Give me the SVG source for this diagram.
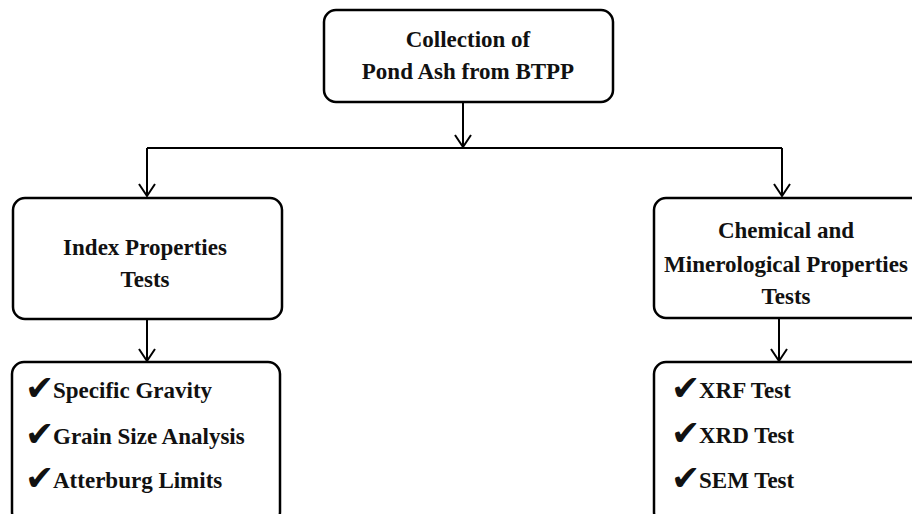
<svg xmlns="http://www.w3.org/2000/svg" width="912" height="514" viewBox="0 0 912 514">
<style>
.box{fill:#fff;stroke:#000;stroke-width:2.5}
.t{font-family:'Liberation Serif','Times New Roman','DejaVu Serif',serif;font-weight:700;font-size:23px;fill:#111}
.c{text-anchor:middle}
.ck{font-family:'DejaVu Sans',sans-serif;font-size:35px;fill:#111}
.ln{fill:none;stroke:#000;stroke-width:2}
.ah{fill:none;stroke:#000;stroke-width:2}
</style>
<rect width="912" height="514" fill="#fff"/>
<g id="connectors">
<path class="ln" d="M463 102V147"/>
<path class="ln" d="M147 148H782"/>
<path class="ln" d="M147 148V196"/>
<path class="ln" d="M782 148V196"/>
<path class="ln" d="M147 319V361"/>
<path class="ln" d="M779 318V361"/>
<path class="ah" d="M455 135L463 147L471 135"/>
<path class="ah" d="M139 184L147 196L155 184"/>
<path class="ah" d="M774 184L782 196L790 184"/>
<path class="ah" d="M139 349L147 361L155 349"/>
<path class="ah" d="M771 349L779 361L787 349"/>
</g>
<g id="n-collection">
<rect class="box" x="324" y="10" width="289" height="92" rx="12"/>
<text class="t c" x="468" y="47">Collection of</text>
<text class="t c" x="468" y="79">Pond Ash from BTPP</text>
</g>
<g id="n-index">
<rect class="box" x="13" y="198" width="269" height="121" rx="12"/>
<text class="t c" x="145" y="255">Index Properties</text>
<text class="t c" x="145" y="287">Tests</text>
</g>
<g id="n-chemical">
<rect class="box" x="654" y="198" width="280" height="120" rx="12"/>
<text class="t c" x="786" y="238">Chemical and</text>
<text class="t c" x="786" y="272">Minerological Properties</text>
<text class="t c" x="786" y="304">Tests</text>
</g>
<g id="n-index-list">
<rect class="box" x="12" y="362" width="268" height="162" rx="12"/>
<text class="ck" x="25" y="400">✔</text>
<text class="t" x="53" y="398">Specific Gravity</text>
<text class="ck" x="25" y="446">✔</text>
<text class="t" x="53" y="444">Grain Size Analysis</text>
<text class="ck" x="25" y="490">✔</text>
<text class="t" x="53" y="488">Atterburg Limits</text>
</g>
<g id="n-chem-list">
<rect class="box" x="654" y="362" width="280" height="162" rx="12"/>
<text class="ck" x="671" y="400">✔</text>
<text class="t" x="699" y="398">XRF Test</text>
<text class="ck" x="671" y="445">✔</text>
<text class="t" x="699" y="443">XRD Test</text>
<text class="ck" x="671" y="490">✔</text>
<text class="t" x="699" y="488">SEM Test</text>
</g>
</svg>
